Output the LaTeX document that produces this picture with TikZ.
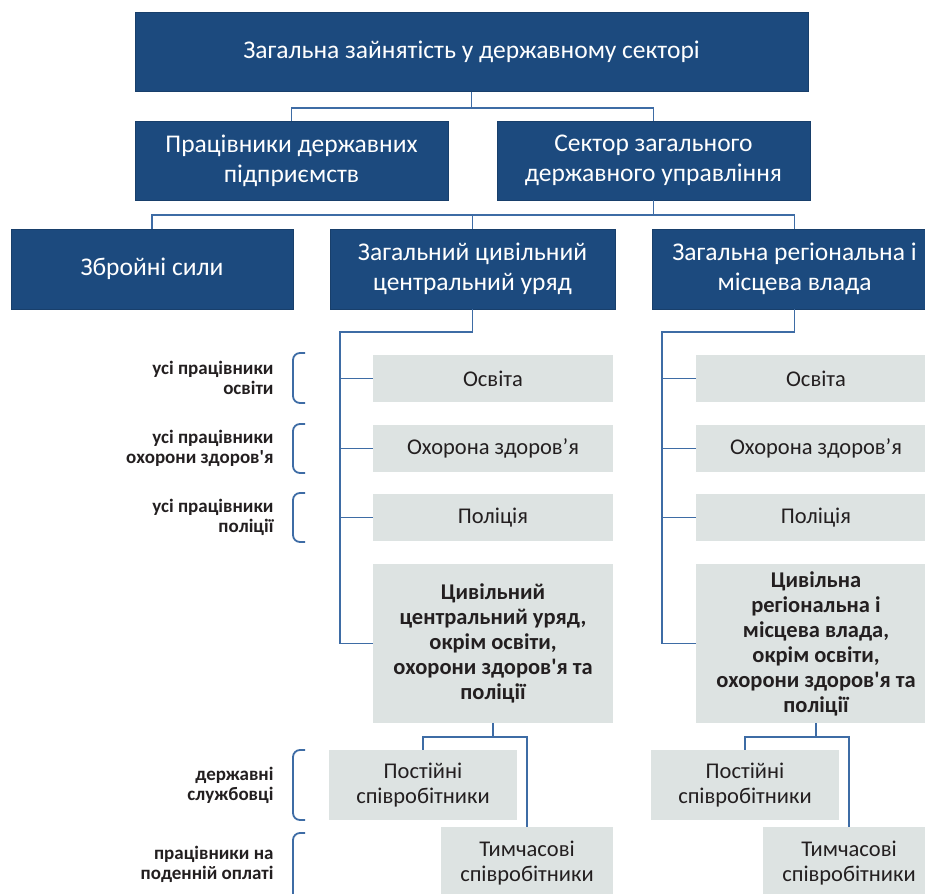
\documentclass[tikz,border=0pt]{standalone}
\usepackage{fontspec}
\setmainfont{Carlito}
\usetikzlibrary{positioning}
\definecolor{DB}{RGB}{28,74,126}
\definecolor{LGr}{RGB}{221,227,226}
\definecolor{LN}{RGB}{62,108,165}
\definecolor{TX}{RGB}{35,31,32}

\begin{document}
\begin{tikzpicture}[x=1pt, y=-1pt,
  hbox/.style={draw=DB!85!black, fill=DB, text=white, minimum width=#1,
               minimum height=79, align=center, inner sep=2,
               font=\fontsize{25.5}{30}\selectfont},
  gbox/.style={fill=LGr, text=TX, minimum width=#1, minimum height=47,
               align=center, inner sep=2, font=\fontsize{22.5}{25}\selectfont},
  bbox/.style={gbox=#1, minimum height=159, font=\bfseries\fontsize{22.5}{25}\selectfont},
  conn/.style={draw=LN, line width=1.8},
  brc/.style={draw=LN, line width=1.8, rounded corners=7},
  lbl/.style={anchor=east, align=right, text=TX,
              font=\bfseries\fontsize{19}{20}\selectfont}
]
\useasboundingbox (0,0) rectangle (925,893);

% Top level
\node[hbox=673] (total) at (471.5,52) {Загальна зайнятість у державному секторі};

% Second level
\node[hbox=313] (enterp) at (291.5,160.5) {Працівники державних\\підприємств};
\node[hbox=313] (gensec) at (653.5,160.5) {Сектор загального\\державного управління};

% Third level
\node[hbox=282, minimum height=80] (army)    at (152,269)   {Збройні сили};
\node[hbox=285, minimum height=80] (central) at (472.5,269) {Загальний цивільний\\центральний уряд};
\node[hbox=285, minimum height=80] (region)  at (794.5,269) {Загальна регіональна і\\місцева влада};

% Central government branches
\node[gbox=240] (cedu)  at (493,378.5) {Освіта};
\node[gbox=240] (cheal) at (493,448.5) {Охорона здоров’я};
\node[gbox=240] (cpol)  at (493,517.5) {Поліція};
\node[bbox=240] (crest) at (493,643.5)
  {Цивільний\\центральний уряд,\\окрім освіти,\\охорони здоров\textquotesingle я та\\поліції};

% Regional government branches
\node[gbox=240] (redu)  at (816,378.5) {Освіта};
\node[gbox=240] (rheal) at (816,448.5) {Охорона здоров’я};
\node[gbox=240] (rpol)  at (816,517.5) {Поліція};
\node[bbox=240] (rrest) at (816,643.5)
  {Цивільна\\регіональна і\\місцева влада,\\окрім освіти,\\охорони здоров\textquotesingle я та\\поліції};

% Staff
\node[gbox=188, minimum height=70] (cperm) at (423,785) {Постійні\\співробітники};
\node[gbox=172, minimum height=72] (ctemp) at (527,863) {Тимчасові\\співробітники};
\node[gbox=188, minimum height=70] (rperm) at (745,785) {Постійні\\співробітники};
\node[gbox=172, minimum height=72] (rtemp) at (849,863) {Тимчасові\\співробітники};

% Connectors
\draw[conn] (total.south) -- ++(0,16) coordinate (j1);
\draw[conn] (enterp.north) |- (j1) -| (gensec.north);
\draw[conn] (gensec.south) -- ++(0,15) coordinate (j2);
\draw[conn] (army.north) |- (j2) -| (region.north);
\draw[conn] (central.north) -- (central.north |- j2);

\coordinate (cbus) at (340,332);
\coordinate (rbus) at (662,332);
\draw[conn] (central.south) |- (cbus) |- (crest.west);
\draw[conn] (region.south) |- (rbus) |- (rrest.west);
\foreach \n in {edu,heal,pol} {
  \draw[conn] (cbus |- c\n.west) -- (c\n.west);
  \draw[conn] (rbus |- r\n.west) -- (r\n.west);
}

\draw[conn] (crest.south) -- ++(0,14) coordinate (j3);
\draw[conn] (cperm.north) |- (j3) -| (ctemp.north);
\draw[conn] (rrest.south) -- ++(0,14) coordinate (j4);
\draw[conn] (rperm.north) |- (j4) -| (rtemp.north);

% Brackets and labels
\foreach \ya/\yb in {353/403, 424/473, 493/542, 750/820, 833/903}
  \draw[brc] (305,\ya) -- (293,\ya) -- (293,\yb) -- (305,\yb);

\node[lbl] (ledu)  at (277,378) {усі працівники\\освіти};
\node[lbl] (lheal) at (277,448) {усі працівники\\охорони здоров\textquotesingle я};
\node[lbl] (lpol)  at (277,517) {усі працівники\\поліції};
\node[lbl] (lserv) at (277,785) {державні\\службовці};
\node[lbl] (lday)  at (277,864) {працівники на\\поденній оплаті};
\end{tikzpicture}
\end{document}
